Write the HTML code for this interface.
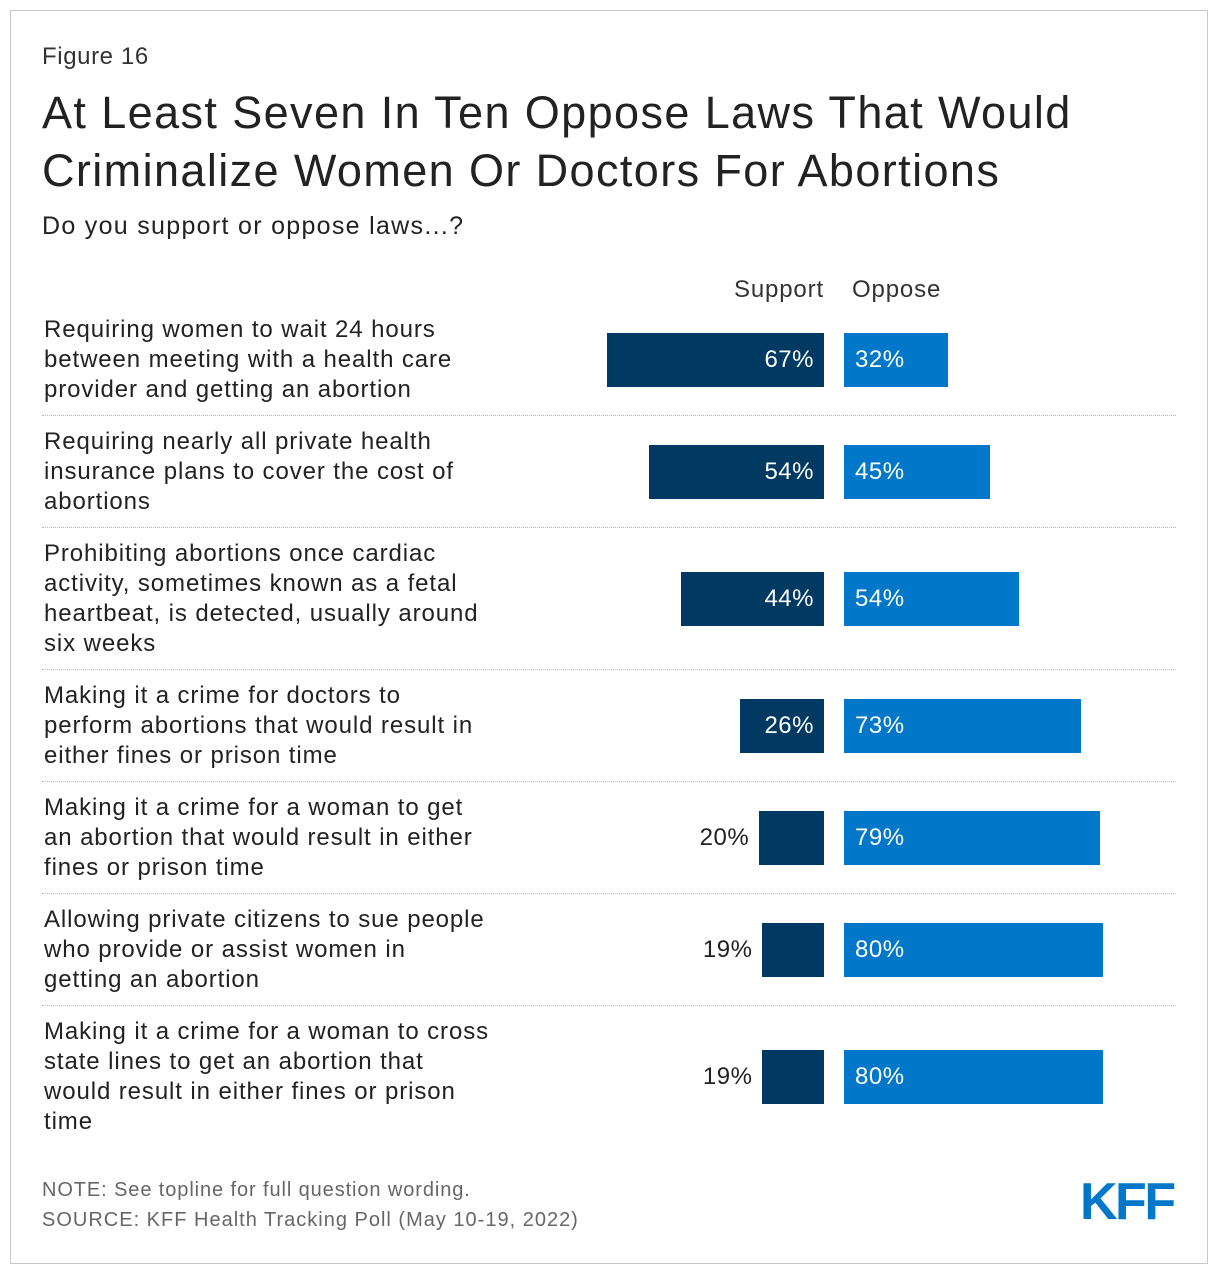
<!DOCTYPE html>
<html><head><meta charset="utf-8">
<style>
body{margin:0;background:#fff;font-family:"Liberation Sans",Arial,sans-serif;}
#frame{position:absolute;left:10px;top:10px;width:1198px;height:1254px;border:1px solid #c8c8c8;box-sizing:border-box;}
.t{position:absolute;color:#222;white-space:nowrap;}
</style></head><body>
<div id="frame"></div>
<div class="t" style="left:42px;top:43px;font-size:24px;color:#333;letter-spacing:0.6px">Figure 16</div>
<div class="t" style="left:42px;top:84px;font-size:45px;line-height:58px;color:#222;letter-spacing:1.4px">At Least Seven In Ten Oppose Laws That Would<br>Criminalize Women Or Doctors For Abortions</div>
<div class="t" style="left:42px;top:212px;font-size:25px;color:#222;letter-spacing:1.3px">Do you support or oppose laws...?</div>
<div class="t" style="right:396px;top:276px;font-size:24px;color:#333;letter-spacing:0.85px">Support</div>
<div class="t" style="left:852px;top:276px;font-size:24px;color:#333;letter-spacing:0.85px">Oppose</div>
<div id="chart"></div>
<div class="t" style="left:42px;top:1179px;font-size:20px;color:#666;letter-spacing:0.9px">NOTE: See topline for full question wording.</div>
<div class="t" style="left:42px;top:1209px;font-size:20px;color:#666;letter-spacing:1px">SOURCE: KFF Health Tracking Poll (May 10-19, 2022)</div>
<div class="t" style="left:1080px;top:1172px;font-size:52px;font-weight:bold;color:#0077c8;letter-spacing:-2.5px">KFF</div>
<script>
const categories=[
"Requiring women to wait 24 hours<br>between meeting with a health care<br>provider and getting an abortion",
"Requiring nearly all private health<br>insurance plans to cover the cost of<br>abortions",
"Prohibiting abortions once cardiac<br>activity, sometimes known as a fetal<br>heartbeat, is detected, usually around<br>six weeks",
"Making it a crime for doctors to<br>perform abortions that would result in<br>either fines or prison time",
"Making it a crime for a woman to get<br>an abortion that would result in either<br>fines or prison time",
"Allowing private citizens to sue people<br>who provide or assist women in<br>getting an abortion",
"Making it a crime for a woman to cross<br>state lines to get an abortion that<br>would result in either fines or prison<br>time"];
const support=[67,54,44,26,20,19,19];
const oppose=[32,45,54,73,79,80,80];
const lineCounts=[3,3,4,3,3,3,4];
const chart=document.getElementById('chart');
const pxPer=3.24, zeroS=824, zeroO=844;
const xs=v=>v*pxPer;
let y=316;
function mk(css,html){const d=document.createElement('div');d.style.cssText='position:absolute;'+css;if(html!==undefined)d.innerHTML=html;chart.appendChild(d);return d;}
categories.forEach((c,i)=>{
  const h=lineCounts[i]*30;
  const cy=y+h/2;
  const lab=mk(`left:44px;top:${y-1}px;font-size:24px;line-height:30px;color:#222;white-space:nowrap;letter-spacing:0.9px`,c);
  
  
  const ws=xs(support[i]);
  const sb=mk(`left:${zeroS-ws}px;top:${cy-28}px;width:${ws}px;height:54px;background:#003a63`);
  
  
  const inside=support[i]>=25;
  const sl=mk(inside?`right:${1220-zeroS+10}px;top:${cy-16}px;font-size:24px;line-height:30px;color:#fff;letter-spacing:0.5px`:`right:${1220-(zeroS-ws)+10}px;top:${cy-16}px;font-size:24px;line-height:30px;color:#222;letter-spacing:0.5px`,support[i]+'%');
  
  
  const wo=xs(oppose[i]);
  const ob=mk(`left:${zeroO}px;top:${cy-28}px;width:${wo}px;height:54px;background:#0077c8`);
  
  
  const ol=mk(`left:${zeroO+11}px;top:${cy-16}px;font-size:24px;line-height:30px;color:#fff;letter-spacing:0.5px`,oppose[i]+'%');
  
  
  y+=h+22;
  if(i<categories.length-1){
    const s=mk(`left:42px;top:${y-13}px;width:1134px;height:0;border-top:1px dotted #bbb`);
    
    
  }
});
</script>
</body></html>
